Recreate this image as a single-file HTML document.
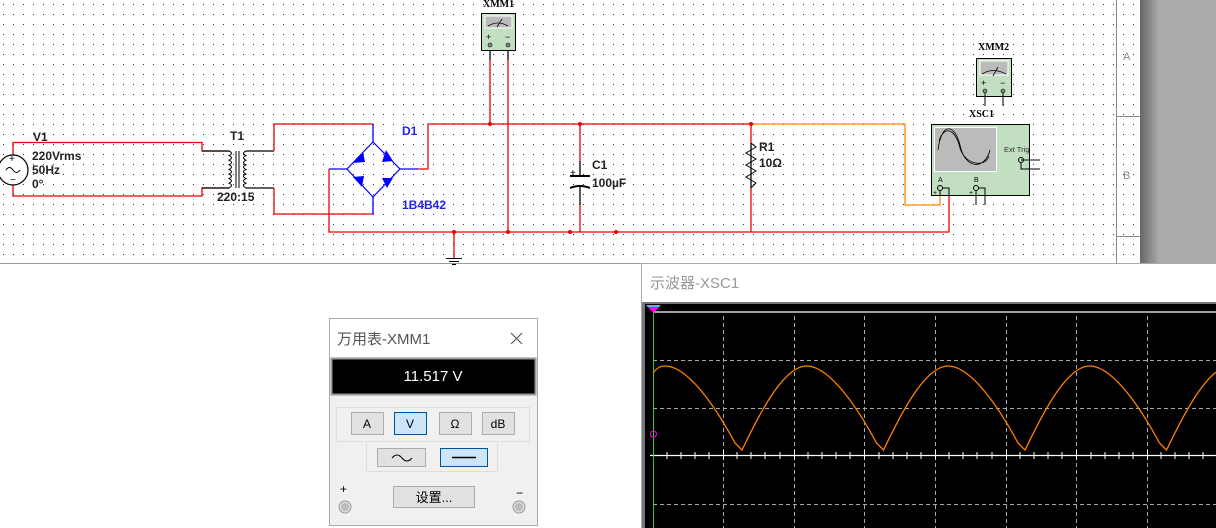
<!DOCTYPE html>
<html><head><meta charset="utf-8"><style>
body{margin:0;width:1216px;height:528px;overflow:hidden;background:#fff;font-family:"Liberation Sans","Noto Sans CJK SC",sans-serif}
svg{display:block}
</style></head><body>
<svg width="1216" height="528" viewBox="0 0 1216 528" xmlns="http://www.w3.org/2000/svg" font-family="Liberation Sans, Noto Sans CJK SC, sans-serif">
<defs>
<pattern id="dots" x="3" y="4" width="10" height="10" patternUnits="userSpaceOnUse"><rect x="0" y="0" width="1" height="1" fill="#333"/></pattern>
<linearGradient id="sh" x1="0" x2="1"><stop offset="0" stop-color="#666"/><stop offset="0.25" stop-color="#aaa"/><stop offset="1" stop-color="#aaa"/></linearGradient>
</defs>
<!-- canvas -->
<rect x="0" y="0" width="1140" height="263" fill="#fff"/>
<rect x="0" y="0" width="1140" height="263" fill="url(#dots)"/>
<rect x="1140" y="0" width="76" height="263" fill="url(#sh)"/>
<line x1="0" y1="263.5" x2="1216" y2="263.5" stroke="#999"/>
<line x1="1116.5" y1="0" x2="1116.5" y2="263" stroke="#888"/>
<line x1="1116" y1="116.5" x2="1140" y2="116.5" stroke="#888"/>
<line x1="1116" y1="236.5" x2="1140" y2="236.5" stroke="#888"/>
<text x="1123" y="60" font-size="11" fill="#888">A</text>
<text x="1123" y="179" font-size="11" fill="#888">B</text>

<!-- wires -->
<g fill="none" stroke-width="1.3">
<polyline points="13,155 13,142.5 202,142.5 202,151 229,151" stroke="#e00"/>
<polyline points="13,185 13,196 202,196 202,188 229,188" stroke="#e00"/>
<line x1="202" y1="151" x2="229" y2="151" stroke="#000"/>
<line x1="202" y1="188" x2="229" y2="188" stroke="#000"/>
<line x1="246" y1="151" x2="274" y2="151" stroke="#000"/>
<line x1="246" y1="188" x2="274" y2="188" stroke="#000"/>
<polyline points="274,151 274,124 373,124" stroke="#e00"/>
<polyline points="274,188 274,214 373,214" stroke="#e00"/>
<line x1="373" y1="124" x2="373" y2="142" stroke="#00f"/>
<line x1="373" y1="214" x2="373" y2="197" stroke="#00f"/>
<polyline points="347,169 329,169" stroke="#00f"/>
<polyline points="329,169 329,232 949,232 949,190" stroke="#e00"/>
<polyline points="400,169 418,169" stroke="#00f"/>
<polyline points="418,169 428,169 428,124 751,124" stroke="#e00"/>
<polyline points="751,124 905,124 905,205 940,205 940,190" stroke="#f80"/>
<line x1="490" y1="50" x2="490" y2="60" stroke="#000"/>
<line x1="508" y1="50" x2="508" y2="60" stroke="#000"/>
<line x1="490" y1="60" x2="490" y2="124" stroke="#e00"/>
<line x1="508" y1="60" x2="508" y2="232" stroke="#e00"/>
<line x1="454" y1="232" x2="454" y2="258" stroke="#e00"/>
<line x1="580" y1="124" x2="580" y2="161" stroke="#e00"/>
<line x1="580" y1="161" x2="580" y2="176" stroke="#000"/>
<line x1="580" y1="187" x2="580" y2="205" stroke="#000"/>
<line x1="580" y1="205" x2="580" y2="232" stroke="#e00"/>
<line x1="751" y1="124" x2="751" y2="143" stroke="#e00"/>
<line x1="751" y1="143" x2="751" y2="188" stroke="#000"/>
<line x1="751" y1="188" x2="751" y2="232" stroke="#e00"/>
</g>
<g fill="#e00">
<circle cx="490" cy="124" r="2"/><circle cx="580" cy="124" r="2"/><circle cx="751" cy="124" r="2"/>
<circle cx="454" cy="232" r="2"/><circle cx="508" cy="232" r="2"/><circle cx="570" cy="232" r="2"/><circle cx="616" cy="232" r="2"/>
</g>
<!-- ground -->
<g stroke="#000"><line x1="446" y1="258.5" x2="462" y2="258.5"/><line x1="449" y1="261.5" x2="459" y2="261.5"/><line x1="452" y1="264.5" x2="456" y2="264.5"/></g>
<!-- V1 -->
<circle cx="13" cy="170" r="15" fill="#fff" stroke="#000" stroke-width="1.2"/>
<text x="9" y="162" font-size="10">+</text><text x="10" y="183" font-size="10">−</text>
<path d="M6,170 q3.5,-5 7,0 t7,0" fill="none" stroke="#000"/>
<g font-size="12" font-weight="bold" fill="#222">
<text x="33" y="141">V1</text><text x="32" y="160">220Vrms</text><text x="32" y="174">50Hz</text><text x="32" y="188">0°</text>
<text x="230" y="140">T1</text><text x="217" y="201">220:15</text>
<text x="592" y="169">C1</text><text x="592" y="187">100µF</text>
<text x="759" y="151">R1</text><text x="759" y="167">10Ω</text>
</g>
<g font-size="12" font-weight="bold" fill="#22e"><text x="402" y="135">D1</text><text x="402" y="209">1B4B42</text></g>
<!-- transformer -->
<g fill="none" stroke="#000">
<path d="M229,151 q5,2.3 0,4.6 q5,2.3 0,4.6 q5,2.3 0,4.6 q5,2.3 0,4.6 q5,2.3 0,4.6 q5,2.3 0,4.6 q5,2.3 0,4.6 q5,2.3 0,4.6"/>
<path d="M246,151 q-5,2.3 0,4.6 q-5,2.3 0,4.6 q-5,2.3 0,4.6 q-5,2.3 0,4.6 q-5,2.3 0,4.6 q-5,2.3 0,4.6 q-5,2.3 0,4.6 q-5,2.3 0,4.6"/>
<line x1="236" y1="151" x2="236" y2="188"/><line x1="239" y1="151" x2="239" y2="188"/>
</g>
<!-- bridge -->
<g stroke="#00f" fill="none" stroke-width="1.2">
<polygon points="373,142 400,169 373,197 347,169"/>
</g>
<g fill="#00f">
<polygon points="353,163 363,152 365,162"/><polygon points="386,150 393,161 382,162"/>
<polygon points="353,177 364,176 362,187"/><polygon points="382,178 393,178 387,188"/>
</g>
<!-- C1 -->
<g stroke="#000" stroke-width="2"><line x1="570" y1="176" x2="590" y2="176"/><path d="M570,188 q10,-4 20,0" fill="none"/></g>
<text x="570" y="176" font-size="10">+</text>
<!-- R1 -->
<polyline points="751,143 756,147 746,153 756,159 746,165 756,171 746,177 756,183 751,188" fill="none" stroke="#000"/>
<!-- XMM1 -->
<text x="483" y="7" font-size="10" font-family="Liberation Serif, serif" font-weight="bold">XMM1</text>
<rect x="481.5" y="13.5" width="34" height="37" fill="#c2dfc2" stroke="#000"/>
<rect x="485" y="16" width="27" height="12" fill="#bbb" stroke="#fff"/>
<path d="M488,26 q10,-6 20,0 M497,27 l5,-8" fill="none" stroke="#000" stroke-width="0.8"/>
<text x="486" y="40" font-size="9">+</text><text x="505" y="40" font-size="9">−</text>
<circle cx="490" cy="45" r="2" fill="#888" stroke="#000" stroke-width="0.6"/><circle cx="508" cy="45" r="2" fill="#888" stroke="#000" stroke-width="0.6"/>
<!-- XMM2 -->
<text x="978" y="50" font-size="10" font-family="Liberation Serif, serif" font-weight="bold">XMM2</text>
<rect x="976.5" y="58.5" width="35" height="38" fill="#c2dfc2" stroke="#000"/>
<rect x="980" y="61" width="28" height="14" fill="#bbb" stroke="#fff"/>
<path d="M982,74 q11,-7 24,0 M993,76 l5,-9" fill="none" stroke="#000" stroke-width="0.8"/>
<text x="981" y="86" font-size="9">+</text><text x="1000" y="86" font-size="9">−</text>
<circle cx="985" cy="91" r="2" fill="#888" stroke="#000" stroke-width="0.6"/><circle cx="1003" cy="91" r="2" fill="#888" stroke="#000" stroke-width="0.6"/>
<line x1="985" y1="93" x2="985" y2="106" stroke="#000"/><line x1="1003" y1="93" x2="1003" y2="106" stroke="#000"/>
<!-- XSC1 -->
<text x="969" y="117" font-size="10" font-family="Liberation Serif, serif" font-weight="bold">XSC1</text>
<rect x="931.5" y="124.5" width="98" height="71" fill="#c2dfc2" stroke="#000"/>
<rect x="934.5" y="127.5" width="62" height="44" fill="#bbb" stroke="#fff"/>
<path d="M938,150 C942,120 955,125 960,145 C965,170 985,170 990,150 M939,141 C944,125 955,128 960,148 C965,165 985,168 989,156" fill="none" stroke="#000" stroke-width="0.8"/>
<text x="1004" y="152" font-size="7.5" fill="#333">Ext Trig</text>
<circle cx="1021" cy="160" r="2.5" fill="none" stroke="#000"/><line x1="1021" y1="160" x2="1040" y2="160" stroke="#000"/>
<polyline points="1021,162 1021,169 1040,169" fill="none" stroke="#000"/>
<text x="938" y="182" font-size="7">A</text><text x="974" y="182" font-size="7">B</text>
<circle cx="940" cy="188" r="2.5" fill="none" stroke="#000"/><circle cx="976" cy="188" r="2.5" fill="none" stroke="#000"/>
<polyline points="940,190 940,195 M942,188 949,188 949,195" fill="none" stroke="#000"/>
<polyline points="942,188 949,188 949,195" fill="none" stroke="#000"/>
<polyline points="978,188 985,188 985,205" fill="none" stroke="#000"/>
<line x1="976" y1="190" x2="976" y2="205" stroke="#000"/>
<text x="933" y="195" font-size="7">+</text><text x="969" y="195" font-size="7">+</text>

<!-- Multimeter window -->
<rect x="329.5" y="318.5" width="208" height="207" fill="#f0f0f0" stroke="#aaa"/>
<rect x="330" y="319" width="207" height="38" fill="#fff"/>
<text x="337" y="344" font-size="15" fill="#555">万用表-XMM1</text>
<path d="M511,333 l11,11 M522,333 l-11,11" stroke="#555" stroke-width="1.1"/>
<rect x="331.5" y="358.5" width="204" height="36" fill="#000" stroke="#999" stroke-width="2"/>
<text x="433" y="381" font-size="15" fill="#fff" text-anchor="middle">11.517 V</text>
<rect x="336.5" y="407.5" width="193" height="34" fill="none" stroke="#ddd"/>
<rect x="366.5" y="441.5" width="131" height="30" fill="none" stroke="#ddd"/>
<g font-size="12" text-anchor="middle">
<rect x="351.5" y="412.5" width="32" height="22" fill="#e1e1e1" stroke="#adadad"/><text x="367" y="428">A</text>
<rect x="394.5" y="412.5" width="32" height="22" fill="#cce4f7" stroke="#005499"/><text x="410" y="428">V</text>
<rect x="439.5" y="412.5" width="32" height="22" fill="#e1e1e1" stroke="#adadad"/><text x="455" y="428">Ω</text>
<rect x="482.5" y="412.5" width="32" height="22" fill="#e1e1e1" stroke="#adadad"/><text x="498" y="428">dB</text>
<rect x="377.5" y="448.5" width="48" height="18" fill="#e1e1e1" stroke="#adadad"/>
<rect x="440.5" y="448.5" width="47" height="18" fill="#cce4f7" stroke="#005499"/>
<rect x="393.5" y="486.5" width="81" height="21" fill="#e1e1e1" stroke="#adadad"/><text x="434" y="502" font-size="13">设置...</text>
</g>
<path d="M392,458 q5,-6 10,0 t10,0" fill="none" stroke="#000"/>
<line x1="452" y1="457.5" x2="476" y2="457.5" stroke="#000" stroke-width="1.5"/>
<text x="340" y="493" font-size="12">+</text><text x="516" y="497" font-size="12">−</text>
<circle cx="345" cy="507" r="6" fill="#ddd" stroke="#999"/><circle cx="345" cy="507" r="4" fill="#bbb"/>
<circle cx="519" cy="507" r="6" fill="#ddd" stroke="#999"/><circle cx="519" cy="507" r="4" fill="#bbb"/>

<!-- Scope window -->
<rect x="641.5" y="263.5" width="580" height="270" fill="#fff" stroke="#aaa"/>
<text x="650" y="288" font-size="15" fill="#999">示波器-XSC1</text>
<rect x="642" y="302" width="574" height="226" fill="#777"/>
<rect x="645" y="304" width="571" height="224" fill="#000"/>
<line x1="653" y1="312" x2="1216" y2="312" stroke="#fff" stroke-width="1.2"/>
<g stroke="#aaa" stroke-dasharray="4,3">
<line x1="723.5" y1="316" x2="723.5" y2="528"/><line x1="794.5" y1="316" x2="794.5" y2="528"/>
<line x1="864.5" y1="316" x2="864.5" y2="528"/><line x1="935.5" y1="316" x2="935.5" y2="528"/>
<line x1="1006.5" y1="316" x2="1006.5" y2="528"/><line x1="1076.5" y1="316" x2="1076.5" y2="528"/>
<line x1="1147.5" y1="316" x2="1147.5" y2="528"/>
<line x1="653" y1="360.5" x2="1216" y2="360.5"/><line x1="653" y1="408.5" x2="1216" y2="408.5"/><line x1="653" y1="504.5" x2="1216" y2="504.5"/>
</g>
<line x1="650" y1="455.5" x2="1216" y2="455.5" stroke="#fff" stroke-width="1.2"/>
<path d="M667,452v7M681,452v7M695,452v7M709,452v7M723.5,450v10M737,452v7M751,452v7M765,452v7M780,452v7M794.5,450v10M808,452v7M822,452v7M836,452v7M850,452v7M864.5,450v10M879,452v7M893,452v7M907,452v7M921,452v7M935.5,450v10M949,452v7M963,452v7M977,452v7M992,452v7M1006.5,450v10M1020,452v7M1034,452v7M1048,452v7M1062,452v7M1076.5,450v10M1091,452v7M1105,452v7M1119,452v7M1133,452v7M1147.5,450v10M1161,452v7M1175,452v7M1189,452v7M1203,452v7" stroke="#fff"/>
<line x1="653.5" y1="305" x2="653.5" y2="528" stroke="#3c3"/>
<polygon points="646,305 661,305 653.5,313" fill="#f0f"/><polygon points="646,305 661,305 659,307 648,307" fill="#3cc"/>
<circle cx="653.5" cy="434" r="3" fill="none" stroke="#f0f"/>
<path d="M653,373 C657,368 660,366 665,366 C690,366 720,415 735,443 L742,450 C752,430 780.5,366 806.5,366 C831.5,366 861.5,415 876.5,443 L883.5,450 C893.5,430 922,366 948,366 C973,366 1003,415 1018,443 L1025,450 C1035,430 1063.5,366 1089.5,366 C1114.5,366 1144.5,415 1159.5,443 L1166.5,450 C1176.5,430 1205,366 1231,366" fill="none" stroke="#ff7f00" stroke-width="1.3"/>
</svg>
</body></html>
